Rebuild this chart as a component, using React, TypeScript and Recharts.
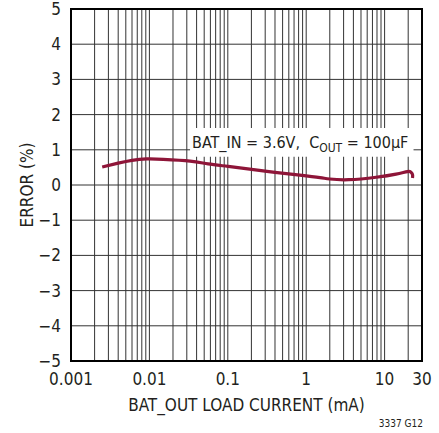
// Error vs BAT_OUT load current, log x axis, single curve with condition label.
import { LineChart, Line, XAxis, YAxis, CartesianGrid, ReferenceArea } from "recharts";

const FONT = '"Liberation Sans Narrow", "DejaVu Sans Condensed", "Arial Narrow", sans-serif';
const INK = "#231f20";
const CURVE = "#8e1538";

// curve: load current (mA) and error (%)
const loadCurrent = [0.0025, 0.004, 0.006, 0.0092, 0.015, 0.033, 0.056, 0.1, 0.19, 0.4, 0.83, 1.5, 2.0, 3.5, 7.8, 14, 19.5, 21.5, 22.7, 22.7];
const errorPct = [0.51, 0.62, 0.70, 0.74, 0.73, 0.68, 0.60, 0.53, 0.45, 0.36, 0.28, 0.21, 0.17, 0.15, 0.22, 0.31, 0.38, 0.37, 0.30, 0.20];

const xLabels = [0.001, 0.01, 0.1, 1, 10, 30];
const yTicks = [-5, -4, -3, -2, -1, 0, 1, 2, 3, 4, 5];
// every log-grid line; only the values in xLabels get a label
const xGridLines = [
  0.001, 0.002, 0.003, 0.004, 0.005, 0.006, 0.007, 0.008, 0.009,
  0.01, 0.02, 0.03, 0.04, 0.05, 0.06, 0.07, 0.08, 0.09,
  0.1, 0.2, 0.3, 0.4, 0.5, 0.6, 0.7, 0.8, 0.9,
  1, 2, 3, 4, 5, 6, 7, 8, 9,
  10, 20, 30,
];

const data = loadCurrent.map((x, i) => ({ x, y: errorPct[i] }));

const fmtX = (v: number) => (xLabels.includes(v) ? String(v) : "");
const fmtY = (v: number) => (v < 0 ? "\u2212" + Math.abs(v) : String(v));

function XTitle(props: any) {
  const vb = props.viewBox;
  const cx = vb.x + vb.width / 2;
  return (
    <g fontFamily={FONT} fill={INK}>
      <text x={cx} y={411} textAnchor="middle" fontSize={17}>BAT_OUT LOAD CURRENT (mA)</text>
      <text x={423} y={427} textAnchor="end" fontSize={10}>3337 G12</text>
    </g>
  );
}

function YTitle(props: any) {
  const vb = props.viewBox;
  const cx = 27;
  const cy = vb.y + vb.height / 2;
  return (
    <text x={cx} y={cy} transform={`rotate(-90 ${cx} ${cy})`} textAnchor="middle" dominantBaseline="central"
      fontFamily={FONT} fontSize={17} fill={INK}>
      ERROR (%)
    </text>
  );
}

function Condition(props: any) {
  const vb = props.viewBox;
  return (
    <text x={vb.x + 2} y={vb.y + 20} fontFamily={FONT} fontSize={16} fill={INK}>
      BAT_IN = 3.6V,{"\u00a0\u00a0"}C
      <tspan fontSize={12} dy={4}>OUT</tspan>
      <tspan dy={-4}> = 100µF</tspan>
    </text>
  );
}

export default function App() {
  return (
    <div style={{ position: "absolute", left: 0, top: 0, width: 439, height: 433, background: "#fff" }}>
      <LineChart width={439} height={433} data={data} margin={{ top: 9, right: 17, bottom: 0, left: 0 }}>
        <CartesianGrid stroke="#333" strokeWidth={1} />
        <XAxis
          dataKey="x"
          type="number"
          scale="log"
          domain={[0.001, 30]}
          ticks={xGridLines}
          interval={0}
          tickFormatter={fmtX}
          allowDataOverflow
          height={72}
          axisLine={false}
          tickLine={false}
          tickSize={0}
          tickMargin={12}
          tick={{ fontFamily: FONT, fontSize: 17, fill: INK }}
          label={{ content: XTitle }}
        />
        <YAxis
          type="number"
          domain={[-5, 5]}
          ticks={yTicks}
          interval={0}
          tickFormatter={fmtY}
          width={71}
          axisLine={false}
          tickLine={false}
          tickSize={0}
          tickMargin={10}
          tick={{ fontFamily: FONT, fontSize: 17, fill: INK }}
          label={{ content: YTitle }}
        />
        <ReferenceArea x1={0.033} x2={23.4} y1={0.8} y2={1.62} fill="#fff" fillOpacity={1} stroke="none" label={{ content: Condition }} />
        <ReferenceArea x1={0.001} x2={30} y1={-5} y2={5} fill="none" fillOpacity={0} stroke="#000" strokeWidth={2} />
        <Line type="natural" dataKey="y" stroke={CURVE} strokeWidth={3.2} dot={false} isAnimationActive={false} />
      </LineChart>
    </div>
  );
}
